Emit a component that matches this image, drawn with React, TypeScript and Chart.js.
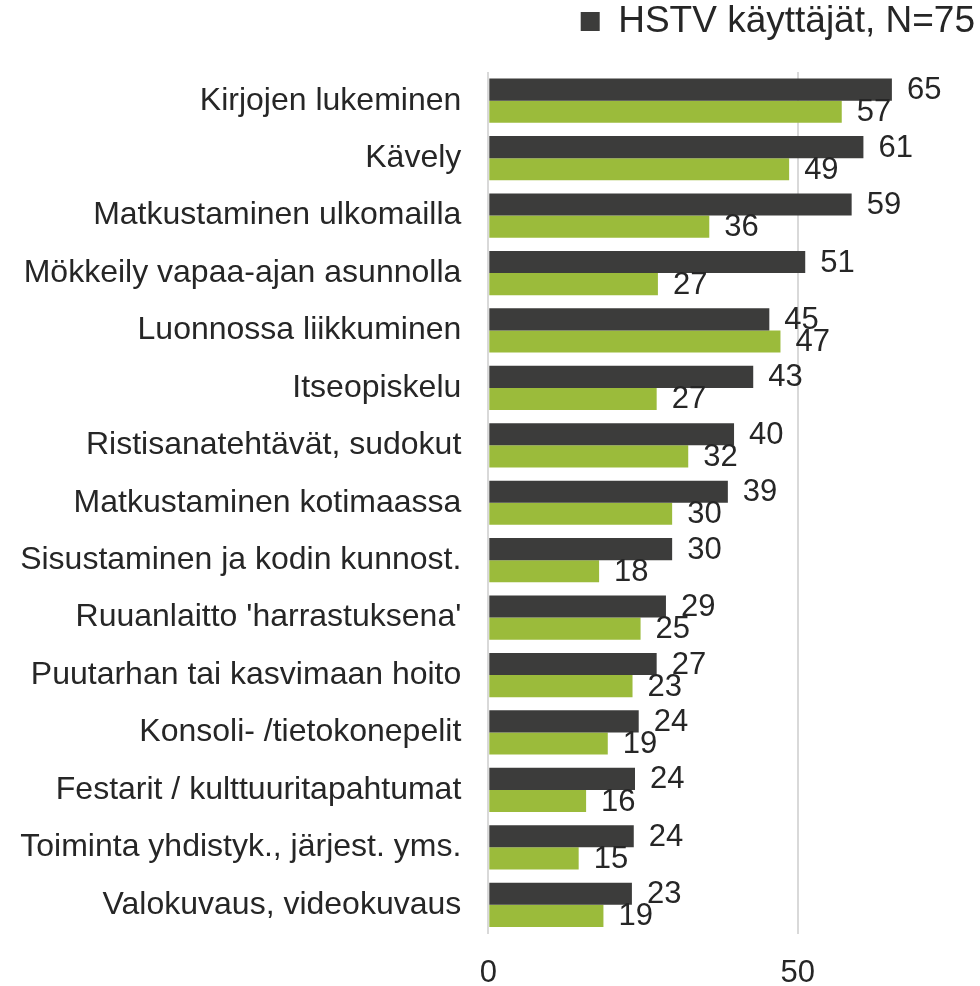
import React, { useEffect, useRef } from "react";
import { Chart, registerables } from "chart.js";

Chart.register(...registerables);

const categories: string[] = [
  "Kirjojen lukeminen",
  "Kävely",
  "Matkustaminen ulkomailla",
  "Mökkeily vapaa-ajan asunnolla",
  "Luonnossa liikkuminen",
  "Itseopiskelu",
  "Ristisanatehtävät, sudokut",
  "Matkustaminen kotimaassa",
  "Sisustaminen ja kodin kunnost.",
  "Ruuanlaitto 'harrastuksena'",
  "Puutarhan tai kasvimaan hoito",
  "Konsoli- /tietokonepelit",
  "Festarit / kulttuuritapahtumat",
  "Toiminta yhdistyk., järjest. yms.",
  "Valokuvaus, videokuvaus",
];

const hstvLabel = "HSTV käyttäjät, N=75";
const hstvValues: number[] = [65.2, 60.6, 58.7, 51.2, 45.4, 42.8, 39.7, 38.7, 29.7, 28.7, 27.2, 24.3, 23.7, 23.5, 23.2];

const otherLabel = "Muut vastaajat";
const otherValues: number[] = [57.1, 48.6, 35.7, 27.4, 47.2, 27.2, 32.3, 29.7, 17.9, 24.6, 23.3, 19.3, 15.8, 14.6, 18.6];

const xTicks: number[] = [0, 50];

const FONT = "'Liberation Sans', Arial, sans-serif";
const TEXT = "#262626";
const DARK = "#3c3c3b";
const GREEN = "#9bbb3b";

const valueLabels = {
  id: "valueLabels",
  afterDatasetsDraw(chart: any) {
    const ctx = chart.ctx;
    ctx.save();
    ctx.font = `31px ${FONT}`;
    ctx.fillStyle = TEXT;
    ctx.textAlign = "left";
    ctx.textBaseline = "middle";
    chart.data.datasets.forEach((ds: any, di: number) => {
      const meta = chart.getDatasetMeta(di);
      meta.data.forEach((bar: any, i: number) => {
        const v = ds.data[i];
        ctx.fillText(String(Math.round(v)), bar.x + 15, bar.y + 1);
      });
    });
    ctx.restore();
  },
};

const legendSpacer = {
  id: "legendSpacer",
  beforeInit(chart: any) {
    const legend = chart.legend;
    if (!legend) return;
    const orig = legend.fit;
    legend.fit = function () {
      orig.call(this);
      this.height += 22;
    };
  },
};

export default function App() {
  const ref = useRef<HTMLCanvasElement | null>(null);

  useEffect(() => {
    if (!ref.current) return;
    const chart = new Chart(ref.current, {
      type: "bar",
      data: {
        labels: categories,
        datasets: [
          {
            label: hstvLabel,
            data: hstvValues,
            backgroundColor: DARK,
            categoryPercentage: 0.77,
            barPercentage: 1,
          },
          {
            label: otherLabel,
            data: otherValues,
            backgroundColor: GREEN,
            categoryPercentage: 0.77,
            barPercentage: 1,
          },
        ],
      },
      options: {
        indexAxis: "y",
        responsive: false,
        animation: false,
        devicePixelRatio: 1,
        layout: { padding: { top: 0, right: 2, left: 0, bottom: 0 } },
        plugins: {
          tooltip: { enabled: false },
          legend: {
            display: true,
            position: "top",
            align: "end",
            labels: {
              font: { family: FONT, size: 37 },
              color: TEXT,
              boxWidth: 19,
              boxHeight: 19,
              padding: 3,
              filter: (item: any) => item.datasetIndex === 0,
            },
          },
        },
        scales: {
          x: {
            type: "linear",
            min: 0,
            max: (978 - 488.3) / 6.19,
            afterBuildTicks: (scale: any) => {
              scale.ticks = xTicks.map((v) => ({ value: v }));
            },
            afterFit: (scale: any) => {
              scale.height = 52.5;
            },
            grid: { color: "#d9d9d9", lineWidth: 2, drawTicks: false },
            border: { display: false },
            ticks: {
              font: { family: FONT, size: 31 },
              color: TEXT,
              padding: 21,
              maxRotation: 0,
            },
          },
          y: {
            type: "category",
            afterFit: (scale: any) => {
              scale.width = 488.3;
            },
            grid: { display: false, drawTicks: false },
            border: { display: false },
            ticks: {
              font: { family: FONT, size: 32 },
              color: TEXT,
              padding: 27,
              autoSkip: false,
            },
          },
        },
      },
      plugins: [valueLabels, legendSpacer],
    });
    return () => chart.destroy();
  }, []);

  return (
    <div style={{ position: "absolute", left: 0, top: 0, width: 980, height: 986, background: "#fff" }}>
      <canvas ref={ref} width={980} height={986} />
    </div>
  );
}
